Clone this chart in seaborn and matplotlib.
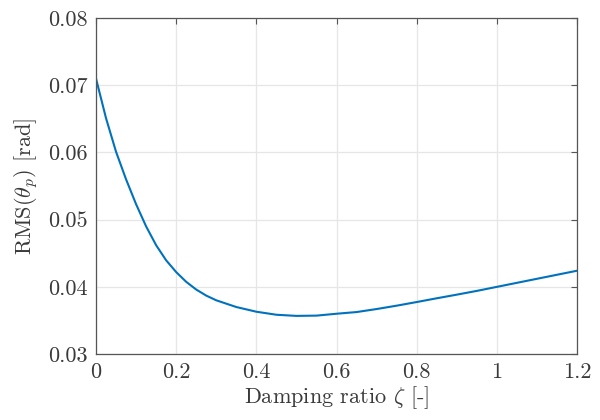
import matplotlib
matplotlib.use("Agg")
import matplotlib.pyplot as plt
import seaborn as sns
import pandas as pd

zeta = [0.0, 0.025, 0.05, 0.075, 0.1, 0.125, 0.15, 0.175, 0.2, 0.225, 0.25, 0.275,
        0.3, 0.35, 0.4, 0.45, 0.5, 0.55, 0.6, 0.65, 0.7, 0.75, 0.8, 0.85, 0.9,
        0.95, 1.0, 1.05, 1.1, 1.15, 1.2]
rms_theta = [0.0710, 0.0651, 0.0601, 0.0560, 0.0523, 0.0490, 0.0462, 0.04395, 0.0422,
             0.04075, 0.0396, 0.0387, 0.0380, 0.0370, 0.0363, 0.03585, 0.03568,
             0.03572, 0.0360, 0.03625, 0.0367, 0.0372, 0.03774, 0.0383, 0.03884,
             0.0394, 0.0400, 0.0406, 0.0412, 0.0418, 0.0424]
x_ticks = [0, 0.2, 0.4, 0.6, 0.8, 1.0, 1.2]
x_tick_labels = ["0", "0.2", "0.4", "0.6", "0.8", "1", "1.2"]
y_ticks = [0.03, 0.04, 0.05, 0.06, 0.07, 0.08]
y_tick_labels = ["0.03", "0.04", "0.05", "0.06", "0.07", "0.08"]

df = pd.DataFrame({"zeta": zeta, "rms": rms_theta})

sns.set_theme(style="white")
plt.rcParams["font.family"] = "serif"
plt.rcParams["font.serif"] = ["cmr10"]
plt.rcParams["mathtext.fontset"] = "cm"
plt.rcParams["axes.formatter.use_mathtext"] = True

text_col = "#3a3a3a"
fig = plt.figure(figsize=(6, 4.2), dpi=100)
ax = fig.add_axes([0.16, 0.157, 0.8017, 0.8])

sns.lineplot(data=df, x="zeta", y="rms", ax=ax, color="#0072BD", linewidth=1.5)

ax.set_xlim(0, 1.2)
ax.set_ylim(0.03, 0.08)
ax.set_xticks(x_ticks)
ax.set_xticklabels(x_tick_labels)
ax.set_yticks(y_ticks)
ax.set_yticklabels(y_tick_labels)
ax.grid(True, color="#e6e6e6", linewidth=0.9)
ax.set_axisbelow(True)
for s in ax.spines.values():
    s.set_visible(True)
    s.set_color("#555555")
    s.set_linewidth(0.9)
ax.tick_params(direction="in", length=4, width=0.8, color="#555555",
               top=True, right=True, labelsize=16, labelcolor=text_col, pad=6)
ax.set_xlabel(r"Damping ratio $\zeta$ [-]", fontsize=16, color=text_col, labelpad=2)
ax.set_ylabel(r"RMS($\theta_p$) [rad]", fontsize=16, color=text_col, labelpad=6)

fig.savefig("out.png", dpi=100)
